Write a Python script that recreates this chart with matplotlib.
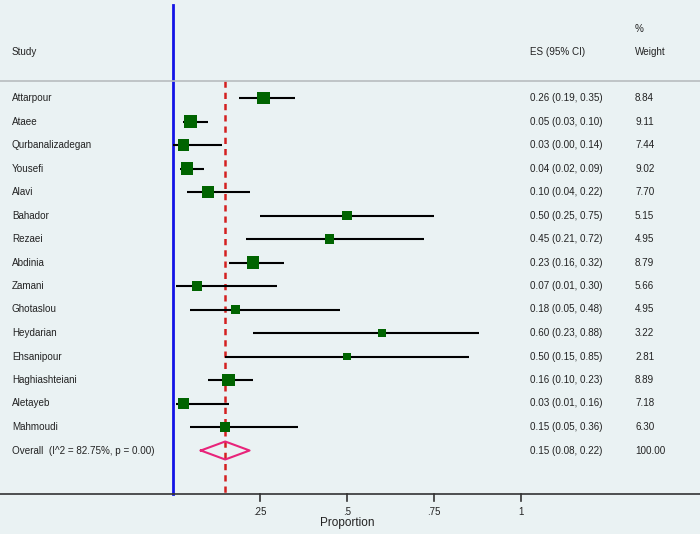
import matplotlib.pyplot as plt
import numpy as np

studies = ["Attarpour", "Ataee", "Qurbanalizadegan", "Yousefi", "Alavi", "Bahador",
           "Rezaei", "Abdinia", "Zamani", "Ghotaslou", "Heydarian", "Ehsanipour",
           "Haghiashteiani", "Aletayeb", "Mahmoudi"]
es = [0.26, 0.05, 0.03, 0.04, 0.10, 0.50, 0.45, 0.23, 0.07, 0.18, 0.60, 0.50, 0.16, 0.03, 0.15]
lo = [0.19, 0.03, 0.00, 0.02, 0.04, 0.25, 0.21, 0.16, 0.01, 0.05, 0.23, 0.15, 0.10, 0.01, 0.05]
hi = [0.35, 0.10, 0.14, 0.09, 0.22, 0.75, 0.72, 0.32, 0.30, 0.48, 0.88, 0.85, 0.23, 0.16, 0.36]
weight = [8.84, 9.11, 7.44, 9.02, 7.70, 5.15, 4.95, 8.79, 5.66, 4.95, 3.22, 2.81, 8.89, 7.18, 6.30]
overall = (0.15, 0.08, 0.22)
overall_label = "Overall  (I^2 = 82.75%, p = 0.00)"
xticks = [0.25, 0.5, 0.75, 1]
xticklabels = [".25", ".5", ".75", "1"]

bg = "#eaf2f3"
txt = "#222222"
plt.rcParams['font.family'] = ['Liberation Sans', 'DejaVu Sans']

fig = plt.figure(figsize=(7, 5.34), dpi=100, facecolor=bg)
ax = fig.add_axes([0, 0, 1, 1], facecolor=bg)
# 0 at 173px, 348px per unit; rows at 98px + 23.5px each
ax.set_xlim(-173 / 348, (700 - 173) / 348)
ax.set_ylim((534 - 98) / 23.5, -98 / 23.5)
ax.axis("off")

n = len(studies)
y = np.arange(n)

# CI lines and boxes
for i in range(n):
    ax.plot([lo[i], hi[i]], [y[i], y[i]], color="black", lw=1.5, zorder=3, solid_capstyle="butt")
sizes = [(4.2 * np.sqrt(w) * 0.72) ** 2 for w in weight]
ax.scatter(es, y, s=sizes, marker="s", color="#006400", zorder=4, linewidths=0)

# overall diamond
yo = n
dh = 9 / 23.5
ax.plot([overall[1], overall[0], overall[2], overall[0], overall[1]],
        [yo, yo - dh, yo, yo + dh, yo], color="#e8247a", lw=1.5, zorder=4)

y_axis = (494.5 - 98) / 23.5
y_top = (5 - 98) / 23.5
y_sep = (81 - 98) / 23.5
ax.plot([0, 0], [y_top, y_axis], color="#1414e6", lw=2, zorder=2)
ax.plot([overall[0]] * 2, [y_sep, y_axis], color="#d42020", lw=1.8, ls=(0, (2.5, 2)), zorder=2)

# separators
xl = ax.get_xlim()
ax.plot(xl, [y_sep, y_sep], color="#b8bcbf", lw=1.2)
ax.plot(xl, [y_axis, y_axis], color="#333333", lw=1.2)

# ticks
tick_len = 7 / 23.5
for t, lab in zip(xticks, xticklabels):
    ax.plot([t, t], [y_axis, y_axis + tick_len], color="#333333", lw=1.2)
    ax.text(t, (512 - 98) / 23.5, lab, ha="center", va="center", fontsize=7, color=txt)
ax.text(0.5, (523 - 98) / 23.5, "Proportion", ha="center", va="center", fontsize=8.5, color=txt)

# text columns
tr = ax.get_yaxis_transform()
fs = 7.1
x_study, x_es, x_w = 12 / 700, 530 / 700, 635 / 700
for i in range(n):
    ax.text(x_study, y[i], studies[i], transform=tr, va="center", fontsize=fs, color=txt)
    ax.text(x_es, y[i], "%.2f (%.2f, %.2f)" % (es[i], lo[i], hi[i]), transform=tr,
            va="center", fontsize=fs, color=txt)
    ax.text(x_w, y[i], "%.2f" % weight[i], transform=tr, va="center", fontsize=fs, color=txt)
ax.text(x_study, yo, overall_label, transform=tr, va="center", fontsize=fs, color=txt)
ax.text(x_es, yo, "%.2f (%.2f, %.2f)" % overall, transform=tr, va="center", fontsize=fs, color=txt)
ax.text(x_w, yo, "100.00", transform=tr, va="center", fontsize=fs, color=txt)

yh = (52 - 98) / 23.5
ax.text(x_study, yh, "Study", transform=tr, va="center", fontsize=fs, color=txt)
ax.text(x_es, yh, "ES (95% CI)", transform=tr, va="center", fontsize=fs, color=txt)
ax.text(x_w, yh, "Weight", transform=tr, va="center", fontsize=fs, color=txt)
ax.text(x_w, (29 - 98) / 23.5, "%", transform=tr, va="center", fontsize=fs, color=txt)

fig.savefig("out.png", dpi=100, facecolor=bg)
